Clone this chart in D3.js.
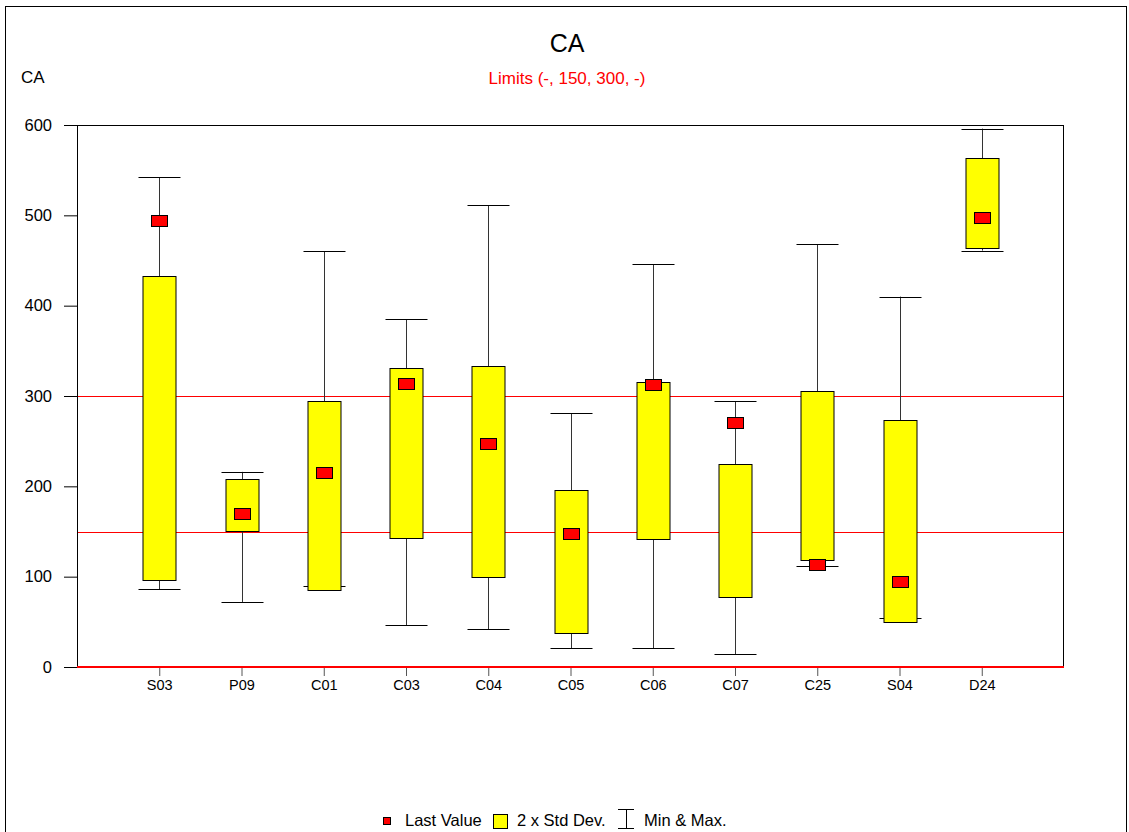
<!DOCTYPE html>
<html><head><meta charset="utf-8">
<script src="https://cdn.jsdelivr.net/npm/d3@7"></script>
<style>body{margin:0;background:#fff;}svg{display:block;font-family:Arial,"Liberation Sans",sans-serif;}</style>
</head><body>
<svg id="c" width="1129" height="832"></svg>
<script>
const categories = ["S03","P09","C01","C03","C04","C05","C06","C07","C25","S04","D24"];
const maxValues  = [542,216,460,385,511,281,446,294,468,410,596];
const minValues  = [86,72,90,46,42,21,21,14,112,54,461];
const boxTop     = [433,208,295,331,333,196,315,225,305,273,563];
const boxBottom  = [96,151,85,143,100,38,142,78,118,50,464];
const lastValues = [494,170,215,314,247,148,313,271,113,95,498];
const limits = [150,300];
const yTicks = [0,100,200,300,400,500,600];

const FONT = "Arial,'Liberation Sans',sans-serif";
const svg = d3.select("#c");
const L=77,R=1064,T=125,B=667;
const x = d3.scalePoint().domain(categories).range([L,R]).padding(1);
const y = d3.scaleLinear().domain([0,600]).range([B,T]);

// outer frame
svg.append("rect").attr("x",5.5).attr("y",6.5).attr("width",1121).attr("height",840).attr("fill","none").attr("stroke","#000");

svg.append("text").attr("x",567).attr("y",52).attr("text-anchor","middle").attr("font-size",25).text("CA");
svg.append("text").attr("x",567).attr("y",84).attr("text-anchor","middle").attr("font-size",17).attr("fill","#ff0000").text("Limits (-, 150, 300, -)");
svg.append("text").attr("x",21).attr("y",83).attr("font-size",17).text("CA");

// y axis
const ya = svg.append("g").attr("transform",`translate(${L},0)`).call(d3.axisLeft(y).tickValues(yTicks).tickSize(13).tickPadding(12));
ya.select(".domain").remove();
ya.selectAll("line").attr("stroke","#000");
ya.selectAll("text").attr("font-size",16.5).attr("font-family",FONT).attr("fill","#000");

// x axis
const xa = svg.append("g").attr("transform",`translate(0,${B})`).call(d3.axisBottom(x).tickSize(9).tickPadding(4));
xa.select(".domain").remove();
xa.selectAll("line").attr("stroke","#555");
xa.selectAll("text").attr("font-size",14.5).attr("font-family",FONT).attr("fill","#000");

// plot frame
svg.append("rect").attr("x",L+0.5).attr("y",T+0.5).attr("width",R-L-1).attr("height",B-T).attr("fill","none").attr("stroke","#000");

// limit lines
svg.selectAll(".lim").data(limits).enter().append("line")
  .attr("x1",L+1).attr("x2",R-1).attr("y1",d=>Math.round(y(d))+0.5).attr("y2",d=>Math.round(y(d))+0.5)
  .attr("stroke","#ff0000").attr("stroke-width",1);
svg.append("line").attr("x1",L).attr("x2",R).attr("y1",B).attr("y2",B).attr("stroke","#ff0000").attr("stroke-width",2);

const data = categories.map((c,i)=>({c,max:maxValues[i],min:minValues[i],top:boxTop[i],bot:boxBottom[i],last:lastValues[i]}));
const g = svg.append("g");
const bw=33, cw=42, mw=16, mh=11;
data.forEach(d=>{
  const cx = Math.round(x(d.c))+0.5;
  g.append("line").attr("x1",cx).attr("x2",cx).attr("y1",y(d.max)).attr("y2",y(d.min)).attr("stroke","#333");
  g.append("line").attr("x1",cx-cw/2).attr("x2",cx+cw/2).attr("y1",Math.round(y(d.max))+0.5).attr("y2",Math.round(y(d.max))+0.5).attr("stroke","#000");
  g.append("line").attr("x1",cx-cw/2).attr("x2",cx+cw/2).attr("y1",Math.round(y(d.min))+0.5).attr("y2",Math.round(y(d.min))+0.5).attr("stroke","#000");
  g.append("rect").attr("x",cx-bw/2).attr("y",Math.round(y(d.top))+0.5).attr("width",bw).attr("height",Math.round(y(d.bot))-Math.round(y(d.top)))
    .attr("fill","#ffff00").attr("stroke","#000");
  g.append("rect").attr("x",cx-mw/2).attr("y",Math.round(y(d.last)-mh/2)+0.5).attr("width",mw).attr("height",mh)
    .attr("fill","#ff0000").attr("stroke","#000");
});

// legend
const lg = svg.append("g").attr("font-size",16.5);
lg.append("rect").attr("x",383.5).attr("y",817.5).attr("width",7).attr("height",7).attr("fill","#ff0000").attr("stroke","#000");
lg.append("text").attr("x",405).attr("y",826).text("Last Value");
lg.append("rect").attr("x",493.5).attr("y",814.5).attr("width",14).attr("height",14).attr("fill","#ffff00").attr("stroke","#000");
lg.append("text").attr("x",517).attr("y",826).text("2 x Std Dev.");
lg.append("line").attr("x1",618).attr("x2",634).attr("y1",809.5).attr("y2",809.5).attr("stroke","#000");
lg.append("line").attr("x1",626.5).attr("x2",626.5).attr("y1",809).attr("y2",829).attr("stroke","#000");
lg.append("line").attr("x1",618).attr("x2",634).attr("y1",828.5).attr("y2",828.5).attr("stroke","#000");
lg.append("text").attr("x",644).attr("y",826).text("Min & Max.");
</script>
</body></html>
